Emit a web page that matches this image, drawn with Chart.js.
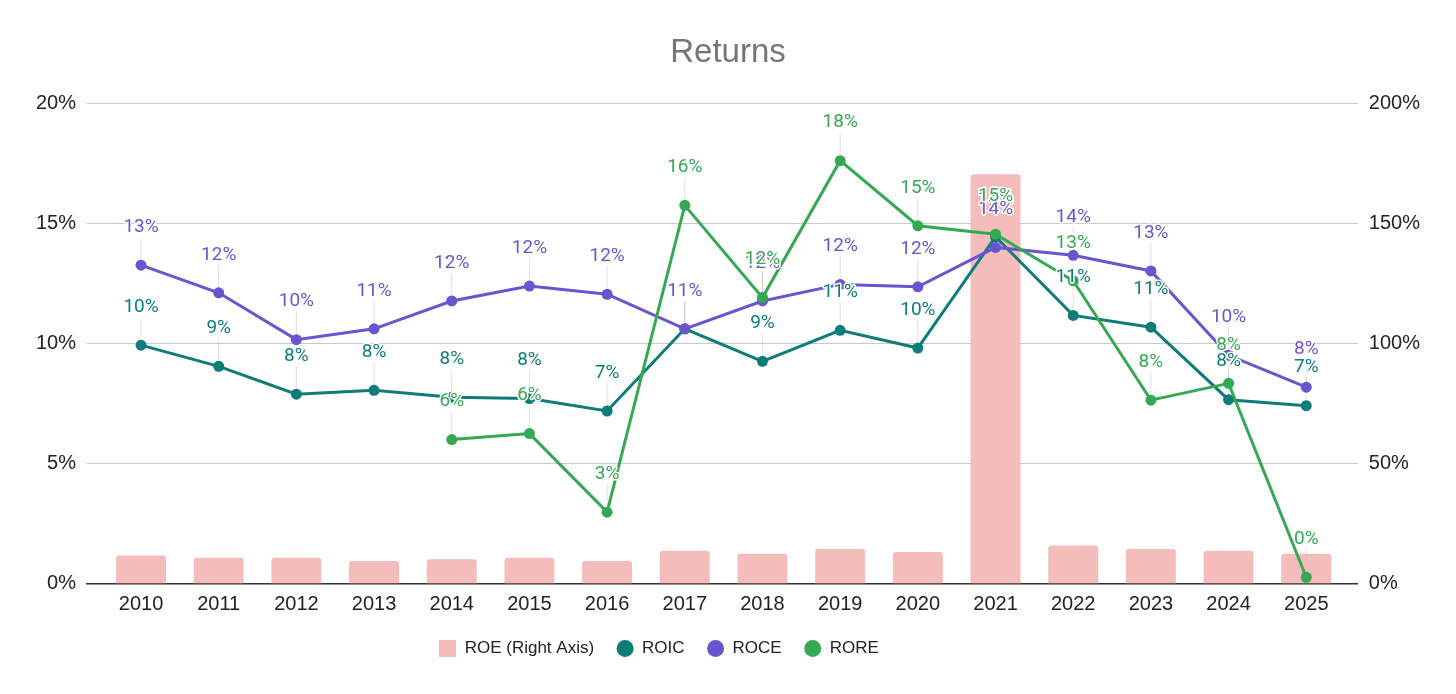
<!DOCTYPE html>
<html>
<head>
<meta charset="utf-8">
<title>Returns</title>
<script src="https://cdn.jsdelivr.net/npm/chart.js@4.4.1/dist/chart.umd.min.js"></script>
<style>
  html, body { margin: 0; padding: 0; background: #fff; }
  #wrap { width: 1456px; height: 694px; position: relative; }
</style>
</head>
<body>
<div id="wrap"><canvas id="returnsChart"></canvas></div>
<script>
// -------- Data --------
const years = [2010, 2011, 2012, 2013, 2014, 2015, 2016, 2017, 2018, 2019, 2020, 2021, 2022, 2023, 2024, 2025];
const roe  = [11.7, 10.7, 10.7, 9.4, 10.1, 10.7, 9.4, 13.6, 12.4, 14.4, 13.1, 170.3, 15.8, 14.4, 13.6, 12.4];
const roic = [9.92, 9.04, 7.88, 8.04, 7.75, 7.7, 7.18, 10.6, 9.25, 10.54, 9.8, 14.43, 11.16, 10.67, 7.65, 7.4];
const roce = [13.25, 12.1, 10.15, 10.6, 11.76, 12.38, 12.04, 10.6, 11.76, 12.45, 12.35, 13.99, 13.66, 13.01, 9.5, 8.17];
const rore = [null, null, null, null, 5.99, 6.24, 2.97, 15.74, 11.9, 17.6, 14.89, 14.54, 12.6, 7.63, 8.33, 0.26];
const leftTicks = [0, 5, 10, 15, 20];
const rightTicks = [0, 50, 100, 150, 200];

const AXIS_FONT = "'Liberation Sans', Arial, sans-serif";

function toPoints(values){
    return years.map(function(y, i){ return { x: y, y: values[i] }; });
}

// pink square used as the ROE legend marker
const roeSwatch = document.createElement("canvas");
roeSwatch.width = 17;
roeSwatch.height = 17;
let sctx = roeSwatch.getContext("2d");
sctx.fillStyle = "#f5bcbc";
sctx.fillRect(0, 0, 17, 17);

// -------- Labels above points with leader lines --------
const pointLabels = {
    id: "pointLabels",
    beforeDatasetsDraw(chart){
        const ctx = chart.ctx;
        ctx.save();
        ctx.strokeStyle = "rgba(0,0,0,0.12)";
        ctx.lineWidth = 1;
        for(let d=1; d<chart.data.datasets.length; d++){
            let ds = chart.data.datasets[d];
            chart.getDatasetMeta(d).data.forEach(function(pt, i){
                if(ds.data[i].y === null) return;
                ctx.beginPath();
                ctx.moveTo(pt.x, pt.y);
                ctx.lineTo(pt.x, pt.y - 28);
                ctx.stroke();
            });
        }
        ctx.restore();
    },
    afterDatasetsDraw(chart){
        const ctx = chart.ctx;
        ctx.save();
        ctx.font = "19px Roboto, 'Liberation Sans', sans-serif";
        ctx.textAlign = "center";
        ctx.textBaseline = "middle";
        ctx.lineJoin = "round";
        for(let d=1; d<chart.data.datasets.length; d++){
            let ds = chart.data.datasets[d];
            chart.getDatasetMeta(d).data.forEach(function(pt, i){
                let v = ds.data[i].y;
                if(v === null) return;
                let txt = Math.round(v) + "%";
                ctx.strokeStyle = "#ffffff";
                ctx.lineWidth = 3;
                ctx.strokeText(txt, pt.x, pt.y - 38);
                ctx.fillStyle = ds.borderColor;
                ctx.fillText(txt, pt.x, pt.y - 38);
            });
        }
        ctx.restore();
    }
};

// legend sits a bit left of centre and closer to the axis in the original
const shiftLegend = {
    id: "shiftLegend",
    afterLayout(chart){
        chart.legend.left -= 69;
        chart.legend.right -= 69;
        chart.legend.top -= 8;
        chart.legend.bottom -= 8;
    }
};

window.onload = function(){

    const ctx = document.getElementById("returnsChart").getContext("2d");

    new Chart(ctx, {
        data: {
            datasets: [
                {
                    type: "bar",
                    label: "ROE (Right Axis)",
                    data: toPoints(roe),
                    yAxisID: "y1",
                    backgroundColor: "#f5bcbc",
                    borderRadius: 3,
                    barPercentage: 0.643,
                    categoryPercentage: 1,
                    pointStyle: roeSwatch,
                    order: 4
                },
                {
                    type: "line",
                    label: "ROIC",
                    data: toPoints(roic),
                    yAxisID: "y",
                    borderColor: "#0e7c78",
                    backgroundColor: "#0e7c78",
                    borderWidth: 3,
                    pointRadius: 5.5,
                    pointBorderWidth: 0,
                    pointStyle: "circle",
                    tension: 0,
                    order: 3
                },
                {
                    type: "line",
                    label: "ROCE",
                    data: toPoints(roce),
                    yAxisID: "y",
                    borderColor: "#6a55d0",
                    backgroundColor: "#6a55d0",
                    borderWidth: 3,
                    pointRadius: 5.5,
                    pointBorderWidth: 0,
                    pointStyle: "circle",
                    tension: 0,
                    order: 2
                },
                {
                    type: "line",
                    label: "RORE",
                    data: toPoints(rore),
                    yAxisID: "y",
                    borderColor: "#34a853",
                    backgroundColor: "#34a853",
                    borderWidth: 3,
                    pointRadius: 5.5,
                    pointBorderWidth: 0,
                    pointStyle: "circle",
                    tension: 0,
                    spanGaps: false,
                    order: 1
                }
            ]
        },
        options: {
            responsive: true,
            maintainAspectRatio: false,
            animation: false,
            layout: {
                padding: { left: 25, right: 25, top: 0, bottom: 19 }
            },
            scales: {
                x: {
                    type: "linear",
                    offset: false,
                    min: 2009.305,
                    max: 2025.664,
                    afterBuildTicks: function(axis){
                        axis.ticks = years.map(function(v){ return { value: v }; });
                    },
                    grid: { display: false, drawTicks: false, offset: false },
                    border: { display: true, color: "#333333", width: 1.5 },
                    ticks: {
                        autoSkip: false,
                        maxRotation: 0,
                        padding: 9,
                        color: "#222222",
                        font: { family: AXIS_FONT, size: 20 },
                        callback: function(v){ return String(v); }
                    }
                },
                y: {
                    position: "left",
                    min: 0,
                    max: 20,
                    afterBuildTicks: function(axis){
                        axis.ticks = leftTicks.map(function(v){ return { value: v }; });
                    },
                    grid: {
                        drawTicks: false,
                        color: function(c){ return c.tick.value === 0 ? "#333333" : "#c8c8c8"; }
                    },
                    border: { display: false },
                    ticks: {
                        padding: 11,
                        color: "#222222",
                        font: { family: AXIS_FONT, size: 20 },
                        callback: function(v){ return v + "%"; }
                    }
                },
                y1: {
                    position: "right",
                    min: 0,
                    max: 200,
                    afterBuildTicks: function(axis){
                        axis.ticks = rightTicks.map(function(v){ return { value: v }; });
                    },
                    grid: { display: false, drawTicks: false },
                    border: { display: false },
                    ticks: {
                        padding: 11,
                        color: "#222222",
                        font: { family: AXIS_FONT, size: 20 },
                        callback: function(v){ return v + "%"; }
                    }
                }
            },
            plugins: {
                title: {
                    display: true,
                    text: "Returns",
                    color: "#757575",
                    font: { family: AXIS_FONT, size: 33, weight: "normal" },
                    padding: { top: 33, bottom: 30.4 }
                },
                legend: {
                    position: "bottom",
                    labels: {
                        usePointStyle: true,
                        boxWidth: 17,
                        boxHeight: 12,
                        padding: 22.5,
                        color: "#222222",
                        font: { family: AXIS_FONT, size: 17 },
                        sort: function(a, b){ return a.datasetIndex - b.datasetIndex; }
                    }
                },
                tooltip: { enabled: false }
            }
        },
        plugins: [pointLabels, shiftLegend]
    });

};
</script>
</body>
</html>
